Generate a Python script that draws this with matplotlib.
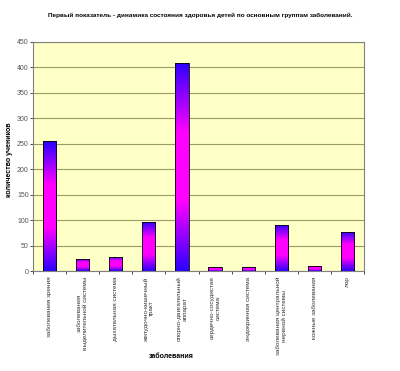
import numpy as np
import matplotlib
matplotlib.use("Agg")
from matplotlib import pyplot as plt
from matplotlib.colors import LinearSegmentedColormap

categories = [
    "заболевания зрения",
    "заболевания\nвыделительной системы",
    "дыхательная система",
    "желудочно-кишечный\nтракт",
    "опорно-двигательный\nаппарат",
    "сердечно-сосудистая\nсистема",
    "эндокринная система",
    "заболевания центральной\nнервной системы",
    "кожные заболевания",
    "лор",
]
values = [255, 24, 28, 97, 409, 7, 7, 91, 10, 77]
y_ticks = [0, 50, 100, 150, 200, 250, 300, 350, 400, 450]

title = "Первый показатель - динамика состояния здоровья детей по основным группам заболеваний."

plt.rcParams['font.family'] = ['Liberation Sans', 'DejaVu Sans']

fig = plt.figure(figsize=(4.0, 3.71), dpi=100)
ax = fig.add_axes([33 / 400, 1 - 271 / 371, 331 / 400, 229 / 371])
ax.set_facecolor("#ffffc8")

x = np.arange(len(values))
bars = ax.bar(x, values, width=0.4, color="none", edgecolor="#000000", linewidth=0.6, zorder=3)

# blue at both ends, magenta in the middle
cmap = LinearSegmentedColormap.from_list("bm", ["#2a00ff", "#ff00ff", "#ff00ff", "#2a00ff"])
grad = np.linspace(0, 1, 256).reshape(-1, 1)
for b in bars:
    x0, y0 = b.get_x(), b.get_y()
    im = ax.imshow(grad, cmap=cmap, aspect="auto", zorder=2,
                   extent=[x0, x0 + b.get_width(), y0, y0 + b.get_height()])
    im.set_clip_path(b)

ax.set_xlim(-0.5, len(values) - 0.5)
ax.set_ylim(0, 450)
ax.set_yticks(y_ticks)
ax.tick_params(axis="y", labelsize=5, length=2, width=0.5, pad=1, labelcolor="#555555")
ax.set_xticks(x)
ax.set_xticklabels(categories, rotation=90, fontsize=4.6, va="top", ha="center", color="#333333")
ax.tick_params(axis="x", length=0, pad=4)
ax.set_xticks(np.arange(len(values) + 1) - 0.5, minor=True)
ax.tick_params(axis="x", which="minor", length=2, width=0.5)
ax.grid(axis="y", color="#9a9a6a", linewidth=0.8, zorder=1)
ax.set_axisbelow(True)
for s in ax.spines.values():
    s.set_color("#808080")
    s.set_linewidth(0.8)

fig.text(0.5, 1 - 15 / 371, title, ha="center", va="center", fontsize=4.6, fontweight="bold")
fig.text(10 / 400, 1 - 160 / 371, "количество учеников", rotation=90, ha="center", va="center",
         fontsize=5, fontweight="bold")
fig.text(171 / 400, 1 - 357 / 371, "заболевания", ha="center", va="center", fontsize=5, fontweight="bold")

fig.savefig("out.png", dpi=100)
